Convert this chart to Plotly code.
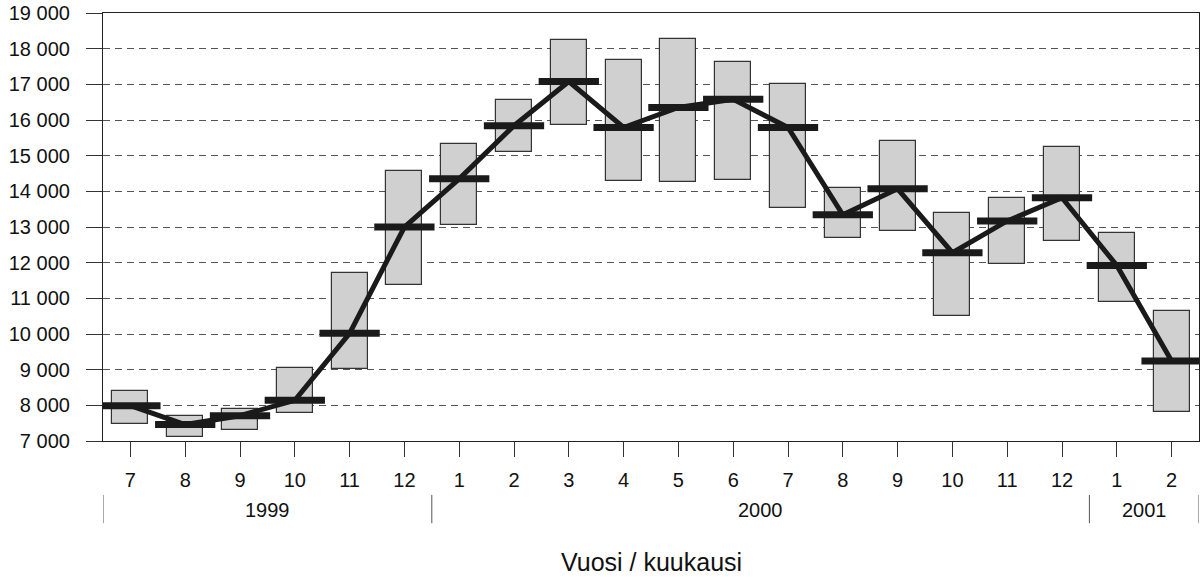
import plotly.graph_objects as go

months = ["7", "8", "9", "10", "11", "12", "1", "2", "3", "4", "5", "6",
          "7", "8", "9", "10", "11", "12", "1", "2"]
box_low = [7470, 7120, 7310, 7780, 9030, 11380, 13050, 15110, 15860, 14300,
           14250, 14320, 13520, 12680, 12900, 10510, 11960, 12610, 10910, 7820]
box_high = [8400, 7700, 7900, 9040, 11700, 14570, 15320, 16560, 18240, 17680,
            18270, 17620, 17000, 14080, 15410, 13400, 13800, 15250, 12820, 10650]
mean_val = [7990, 7460, 7710, 8140, 10020, 13000, 14350, 15840, 17080, 15790,
            16350, 16580, 15790, 13340, 14070, 12280, 13170, 13820, 11920, 9240]
years = ["1999", "2000", "2001"]
year_start = [0, 6, 18]
year_end = [5, 17, 19]
y_ticks = list(range(7000, 19001, 1000))

FONT = "Liberation Sans, Arial, Helvetica, sans-serif"
TXT = "#111111"
idx = list(range(len(months)))

fig = go.Figure()

fig.add_trace(go.Bar(
    x=idx,
    base=box_low,
    y=[h - l for h, l in zip(box_high, box_low)],
    width=0.66,
    marker=dict(color="#d0d0d0", line=dict(color="#333333", width=1.2)),
    hoverinfo="skip",
    showlegend=False,
))

fig.add_trace(go.Scatter(
    x=idx, y=mean_val, mode="lines",
    line=dict(color="#1a1a1a", width=5),
    showlegend=False, hoverinfo="skip",
))

seg_x, seg_y = [], []
for i, m in zip(idx, mean_val):
    seg_x += [i - 0.55, i + 0.55, None]
    seg_y += [m, m, None]
fig.add_trace(go.Scatter(
    x=seg_x, y=seg_y, mode="lines",
    line=dict(color="#1a1a1a", width=7),
    showlegend=False, hoverinfo="skip",
))

# plot area: 428 px tall, bottom at page y=441
shapes = []
sep_positions = sorted(set([s - 0.5 for s in year_start] + [e + 0.5 for e in year_end]))
for p in sep_positions:
    shapes.append(dict(type="line", xref="x", yref="paper", x0=p, x1=p,
                       y0=-0.126, y1=-0.192, line=dict(color="#555555", width=1)))

annotations = []
for name, s, e in zip(years, year_start, year_end):
    annotations.append(dict(text=name, xref="x", yref="paper", x=(s + e) / 2,
                            y=-0.161, showarrow=False, yanchor="middle",
                            font=dict(family=FONT, size=20, color=TXT)))
annotations.append(dict(text="Vuosi / kuukausi", xref="paper", yref="paper",
                        x=0.5, y=-0.282, showarrow=False, yanchor="middle",
                        font=dict(family=FONT, size=25, color=TXT)))

fig.update_layout(
    width=1202, height=578,
    margin=dict(l=103, r=3, t=13, b=137, autoexpand=False),
    paper_bgcolor="white", plot_bgcolor="white",
    separators=", ",
    bargap=0,
    shapes=shapes,
    annotations=annotations,
    font=dict(family=FONT, size=20, color=TXT),
)
fig.update_xaxes(
    automargin=False,
    range=[-0.5, len(months) - 0.5],
    tickvals=idx, ticktext=months,
    ticks="outside", ticklen=15, tickcolor="#333333", tickwidth=1,
    ticklabelstandoff=6,
    showline=True, linecolor="#222222", linewidth=1.2, mirror=True,
    showgrid=False, zeroline=False,
    tickfont=dict(family=FONT, size=20, color=TXT),
)
fig.update_yaxes(
    automargin=False,
    range=[7000, 19000],
    tickvals=y_ticks, tickformat=",d",
    ticks="outside", ticklen=16, tickcolor="#333333", tickwidth=1,
    ticklabelstandoff=12, ticklabeloverflow="allow",
    showline=True, linecolor="#222222", linewidth=1.2, mirror=True,
    showgrid=True, gridcolor="#555555", gridwidth=1.4, griddash="7px,5px",
    zeroline=False,
    tickfont=dict(family=FONT, size=20, color=TXT),
)

# remove the browser's default 8px body margin so the figure fills the window exactly
fig.write_html("out.html", config={"displayModeBar": False},
               post_script="document.body.style.margin='0px';")
